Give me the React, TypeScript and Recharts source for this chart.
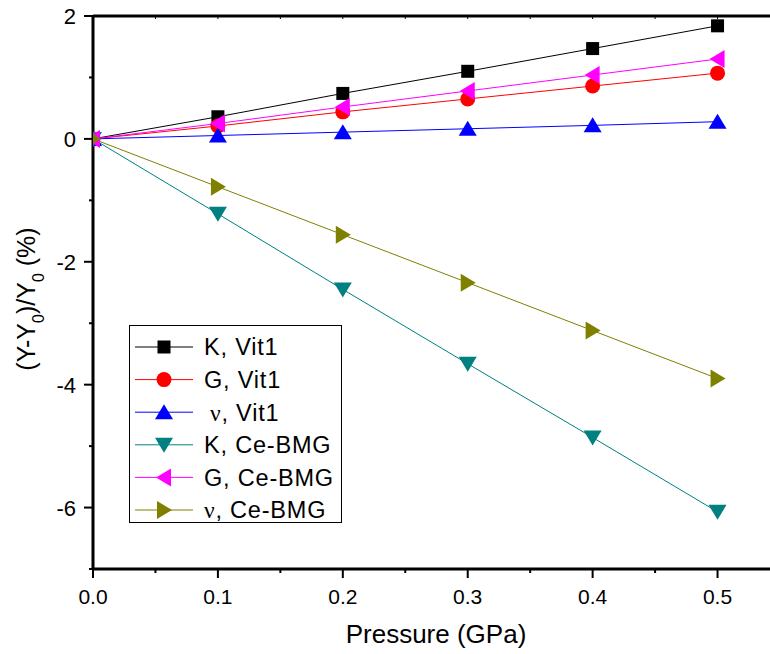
import React from "react";
import { LineChart, Line, XAxis, YAxis, Label } from "recharts";

// pressure steps (GPa)
const pressure = [0, 0.1, 0.2, 0.3, 0.4, 0.5];

// relative change (%) of each modulus
const kVit1 = [0, 0.36, 0.74, 1.1, 1.47, 1.84];
const gVit1 = [0, 0.21, 0.44, 0.65, 0.86, 1.07];
const nuVit1 = [0, 0.055, 0.11, 0.165, 0.22, 0.28];
const kCe = [0, -1.22, -2.45, -3.66, -4.86, -6.07];
const gCe = [0, 0.25, 0.52, 0.78, 1.04, 1.3];
const nuCe = [0, -0.78, -1.56, -2.34, -3.12, -3.9];

const xTicks = [0, 0.05, 0.1, 0.15, 0.2, 0.25, 0.3, 0.35, 0.4, 0.45, 0.5];
const yTicks = [-7, -6, -5, -4, -3, -2, -1, 0, 1, 2];

const series = [
  { key: "kVit1", sym: "K", mat: "Vit1", values: kVit1, color: "#000000", shape: "square" },
  { key: "gVit1", sym: "G", mat: "Vit1", values: gVit1, color: "#ff0000", shape: "circle" },
  { key: "nuVit1", sym: "\u03bd", mat: "Vit1", values: nuVit1, color: "#0000ff", shape: "up" },
  { key: "kCe", sym: "K", mat: "Ce-BMG", values: kCe, color: "#008080", shape: "down" },
  { key: "gCe", sym: "G", mat: "Ce-BMG", values: gCe, color: "#ff00ff", shape: "left" },
  { key: "nuCe", sym: "\u03bd", mat: "Ce-BMG", values: nuCe, color: "#808000", shape: "right" },
];

const data = pressure.map((p, i) => {
  const row: Record<string, number> = { p };
  series.forEach((s) => (row[s.key] = s.values[i]));
  return row;
});

const FONT = "'Liberation Sans', Arial, sans-serif";
const SERIF = "'Liberation Serif', 'Times New Roman', serif";

function Marker({ shape, color, cx, cy }: { shape: string; color: string; cx: number; cy: number }) {
  const r = 8;
  switch (shape) {
    case "square":
      return <rect x={cx - 6.5} y={cy - 6.5} width={13} height={13} fill={color} />;
    case "circle":
      return <circle cx={cx} cy={cy} r={7.5} fill={color} />;
    case "up":
      return <polygon points={`${cx},${cy - r} ${cx + r + 1},${cy + r - 1} ${cx - r - 1},${cy + r - 1}`} fill={color} />;
    case "down":
      return <polygon points={`${cx},${cy + r} ${cx + r + 1},${cy - r + 1} ${cx - r - 1},${cy - r + 1}`} fill={color} />;
    case "left":
      return <polygon points={`${cx - r},${cy} ${cx + r - 1},${cy - r - 1} ${cx + r - 1},${cy + r + 1}`} fill={color} />;
    default:
      return <polygon points={`${cx + r},${cy} ${cx - r + 1},${cy - r - 1} ${cx - r + 1},${cy + r + 1}`} fill={color} />;
  }
}

const makeDot = (shape: string, color: string) => (props: any) => (
  <Marker key={`${shape}-${props.index}`} shape={shape} color={color} cx={props.cx} cy={props.cy} />
);

const BottomTick = (props: any) => {
  const { x, y, payload } = props;
  const v = payload.value;
  const major = Math.round(v * 100) % 10 === 0;
  return (
    <g>
      <line x1={x} x2={x} y1={y} y2={y + (major ? 9 : 4)} stroke="#000" strokeWidth={2} />
      {major && (
        <text x={x} y={y + 35} textAnchor="middle" fontSize={21} fontFamily={FONT} fill="#000">
          {v.toFixed(1)}
        </text>
      )}
    </g>
  );
};

const TopTick = (props: any) => {
  const { x, y } = props;
  return <line x1={x} x2={x} y1={y} y2={y + 3} stroke="#000" strokeWidth={1} />;
};

const LeftTick = (props: any) => {
  const { x, y, payload } = props;
  const v = payload.value;
  const major = v % 2 === 0;
  return (
    <g>
      <line x1={x} x2={x - (major ? 9 : 4)} y1={y} y2={y} stroke="#000" strokeWidth={2} />
      {major && (
        <text x={x - 17} y={y + 8} textAnchor="end" fontSize={22} fontFamily={FONT} fill="#000">
          {v}
        </text>
      )}
    </g>
  );
};

const YTitle = () => (
  <text
    transform="translate(35,299) rotate(-90)"
    textAnchor="middle"
    fontSize={25}
    fontFamily={FONT}
    fill="#000"
  >
    (Y-Y<tspan baselineShift="sub" fontSize={16}>0</tspan>
    <tspan>)/Y</tspan>
    <tspan baselineShift="sub" fontSize={16}>0</tspan>
    <tspan> (%)</tspan>
  </text>
);

const rowY = [22, 54.6, 87.2, 119.8, 152.4, 185];

const LegendBox = () => (
  <svg
    width={214}
    height={199}
    style={{ position: "absolute", left: 129, top: 325 }}
  >
    <rect x={0.5} y={0.5} width={212} height={197} fill="#fff" stroke="#000" strokeWidth={1} />
    {series.map((s, i) => (
      <g key={s.key}>
        <line x1={6} x2={64} y1={rowY[i]} y2={rowY[i]} stroke={s.color} strokeWidth={1} />
        <Marker shape={s.shape} color={s.color} cx={35} cy={rowY[i]} />
        <text x={75} y={rowY[i] + 8.3} fontSize={23.5} letterSpacing={0.8} fontFamily={FONT} fill="#000">
          <tspan fontFamily={SERIF} dx={s.key === "nuVit1" ? 6 : 0}>{s.sym === "\u03bd" ? s.sym : ""}</tspan>
          {s.sym === "\u03bd" ? "" : s.sym}
          {`, ${s.mat}`}
        </text>
      </g>
    ))}
  </svg>
);

export default function App() {
  return (
    <div style={{ position: "absolute", left: 0, top: 0, width: 770, height: 654, background: "#fff" }}>
      <LineChart
        width={770}
        height={654}
        data={data}
        margin={{ top: 15, right: 0, bottom: 84, left: 0 }}
      >
        <XAxis
          dataKey="p"
          type="number"
          domain={[0, 0.542]}
          ticks={xTicks}
          allowDataOverflow
          interval={0}
          tickSize={0}
          tickMargin={0}
          tickLine={false}
          tick={<BottomTick />}
          axisLine={{ stroke: "#000", strokeWidth: 3 }}
          height={1}
        />
        <XAxis
          xAxisId="top"
          orientation="top"
          dataKey="p"
          type="number"
          domain={[0, 0.542]}
          ticks={xTicks}
          allowDataOverflow
          interval={0}
          tickSize={0}
          tickMargin={0}
          tickLine={false}
          tick={<TopTick />}
          axisLine={{ stroke: "#000", strokeWidth: 3 }}
          height={1}
        />
        <YAxis
          type="number"
          domain={[-7, 2]}
          ticks={yTicks}
          interval={0}
          width={93}
          tickSize={0}
          tickMargin={0}
          tickLine={false}
          tick={<LeftTick />}
          axisLine={{ stroke: "#000", strokeWidth: 3 }}
        >
          <Label content={<YTitle />} />
        </YAxis>
        {series.map((s) => (
          <Line
            key={s.key}
            dataKey={s.key}
            name={`${s.sym}, ${s.mat}`}
            stroke={s.color}
            strokeWidth={1}
            type="linear"
            dot={makeDot(s.shape, s.color)}
            activeDot={false}
            isAnimationActive={false}
          />
        ))}
      </LineChart>
      <div
        style={{
          position: "absolute",
          left: 0,
          width: 872,
          top: 619,
          textAlign: "center",
          fontFamily: FONT,
          fontSize: 26,
          lineHeight: "30px",
          color: "#000",
        }}
      >
        Pressure (GPa)
      </div>
      <LegendBox />
    </div>
  );
}
